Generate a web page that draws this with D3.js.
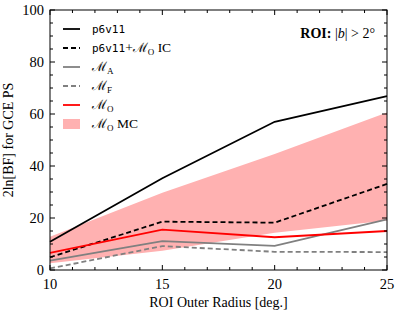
<!DOCTYPE html>
<html>
<head>
<meta charset="utf-8">
<script src="https://cdn.jsdelivr.net/npm/d3@7"></script>
<style>
  body { margin: 0; background: #fff; }
  svg text { font-family: "Liberation Serif", "DejaVu Serif", serif; }
  .mono { font-family: "DejaVu Sans Mono", "Liberation Mono", monospace; }
</style>
</head>
<body>
<div id="chart"></div>
<script>
// DATA
const radii = [10, 15, 20, 25];
const p6v11 = [10.9, 35.3, 57.0, 66.9];
const p6v11MoIC = [4.9, 18.6, 18.2, 33.1];
const mA = [3.6, 11.1, 9.3, 19.5];
const mF = [0.6, 9.2, 7.0, 6.9];
const mO = [6.6, 15.5, 12.6, 15.0];
const mcUpper = [12.8, 29.7, 44.6, 60.6];
const mcLower = [2.6, 7.4, 14.3, 19.0];
const xTicks = [10, 15, 20, 25];
const yTicks = [0, 20, 40, 60, 80, 100];

const width = 399, height = 315;
const margin = {top: 10, right: 12, bottom: 45, left: 50};

const svg = d3.select("#chart").append("svg")
  .attr("width", width)
  .attr("height", height);

const x = d3.scaleLinear().domain([10, 25]).range([margin.left, width - margin.right]);
const y = d3.scaleLinear().domain([0, 100]).range([height - margin.bottom, margin.top]);

// MC band
const area = d3.area()
  .x((d, i) => x(radii[i]))
  .y0((d, i) => y(mcLower[i]))
  .y1((d, i) => y(mcUpper[i]));
svg.append("path")
  .datum(mcUpper)
  .attr("d", area)
  .attr("fill", "#ffb1b1");

// lines
const series = [
  {name: "p6v11", values: p6v11, color: "#000", dash: null, w: 1.8},
  {name: "p6v11+MO IC", values: p6v11MoIC, color: "#000", dash: "5,3", w: 1.8},
  {name: "MA", values: mA, color: "#808080", dash: null, w: 1.8},
  {name: "MF", values: mF, color: "#808080", dash: "5,3", w: 1.8},
  {name: "MO", values: mO, color: "#ff0000", dash: null, w: 1.8}
];
const line = d3.line().x((d, i) => x(radii[i])).y(d => y(d));
series.forEach(s => {
  svg.append("path")
    .datum(s.values)
    .attr("d", line)
    .attr("fill", "none")
    .attr("stroke", s.color)
    .attr("stroke-width", s.w)
    .attr("stroke-dasharray", s.dash);
});

// frame + inward ticks on all sides
const frame = svg.append("g");
frame.append("rect")
  .attr("x", x(10)).attr("y", y(100))
  .attr("width", x(25) - x(10)).attr("height", y(0) - y(100))
  .attr("fill", "none").attr("stroke", "#000").attr("stroke-width", 1);

const xMinor = d3.range(10, 26, 1);
const yMinor = d3.range(0, 101, 5);
xMinor.forEach(v => {
  const len = xTicks.includes(v) ? 5 : 3;
  frame.append("line").attr("x1", x(v)).attr("x2", x(v)).attr("y1", y(0)).attr("y2", y(0) - len).attr("stroke", "#000");
  frame.append("line").attr("x1", x(v)).attr("x2", x(v)).attr("y1", y(100)).attr("y2", y(100) + len).attr("stroke", "#000");
});
yMinor.forEach(v => {
  const len = yTicks.includes(v) ? 5 : 3;
  frame.append("line").attr("y1", y(v)).attr("y2", y(v)).attr("x1", x(10)).attr("x2", x(10) + len).attr("stroke", "#000");
  frame.append("line").attr("y1", y(v)).attr("y2", y(v)).attr("x1", x(25)).attr("x2", x(25) - len).attr("stroke", "#000");
});

// tick labels
svg.selectAll(".xt").data(xTicks).join("text")
  .attr("x", d => x(d)).attr("y", 289)
  .attr("text-anchor", "middle")
  .attr("font-size", 14.5)
  .text(d => d);
svg.selectAll(".yt").data(yTicks).join("text")
  .attr("x", 44).attr("y", d => y(d) + 4.5)
  .attr("text-anchor", "end")
  .attr("font-size", 14.5)
  .text(d => d);

// axis titles
svg.append("text")
  .attr("x", (x(10) + x(25)) / 2).attr("y", 307)
  .attr("text-anchor", "middle")
  .attr("font-size", 14)
  .text("ROI Outer Radius [deg.]");
svg.append("text")
  .attr("transform", `translate(13,${(y(0) + y(100)) / 2}) rotate(-90)`)
  .attr("text-anchor", "middle")
  .attr("font-size", 14)
  .text("2ln[BF] for GCE PS");

// ROI label
const roi = svg.append("text")
  .attr("x", 375).attr("y", 38)
  .attr("text-anchor", "end")
  .attr("font-size", 14);
roi.append("tspan").attr("font-weight", "bold").text("ROI: ");
roi.append("tspan").text("|");
roi.append("tspan").attr("font-style", "italic").text("b");
roi.append("tspan").text("| > 2°");

// legend
const legend = svg.append("g");
const rowY = [29, 48, 67, 86, 105, 124];
function addM(t, sub) {
  t.append("tspan").attr("font-family", "DejaVu Serif").attr("font-size", 13).text("ℳ");
  t.append("tspan").attr("font-size", 9).attr("dy", 3).text(sub);
}
series.forEach((s, i) => {
  legend.append("line")
    .attr("x1", 63).attr("x2", 80).attr("y1", rowY[i]).attr("y2", rowY[i])
    .attr("stroke", s.color).attr("stroke-width", s.w)
    .attr("stroke-dasharray", s.dash);
});
legend.append("rect")
  .attr("x", 63).attr("y", rowY[5] - 5).attr("width", 17).attr("height", 10)
  .attr("fill", "#ffb1b1");

let t = legend.append("text").attr("x", 92).attr("y", rowY[0] + 4).attr("font-size", 13.5);
t.append("tspan").attr("class", "mono").attr("font-size", 11).text("p6v11");
t = legend.append("text").attr("x", 92).attr("y", rowY[1] + 4).attr("font-size", 13.5);
t.append("tspan").attr("class", "mono").attr("font-size", 11).text("p6v11");
t.append("tspan").text("+");
addM(t, "O");
t.append("tspan").attr("dy", -3).text(" IC");
t = legend.append("text").attr("x", 92).attr("y", rowY[2] + 4).attr("font-size", 13.5);
addM(t, "A");
t = legend.append("text").attr("x", 92).attr("y", rowY[3] + 4).attr("font-size", 13.5);
addM(t, "F");
t = legend.append("text").attr("x", 92).attr("y", rowY[4] + 4).attr("font-size", 13.5);
addM(t, "O");
t = legend.append("text").attr("x", 92).attr("y", rowY[5] + 4).attr("font-size", 13.5);
addM(t, "O");
t.append("tspan").attr("dy", -3).text(" MC");
</script>
</body>
</html>
